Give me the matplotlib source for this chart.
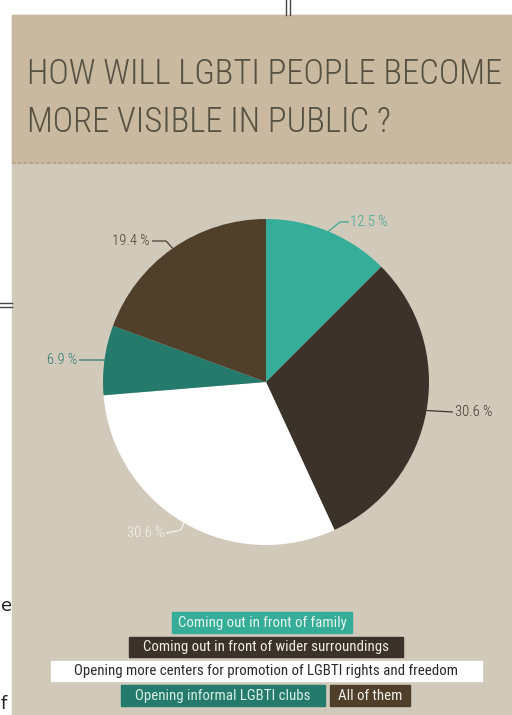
import matplotlib
matplotlib.use('Agg')
import matplotlib.pyplot as plt
from matplotlib import font_manager as fm
from matplotlib.patches import Rectangle
import numpy as np

# ---------------- data ----------------
categories = ["Coming out in front of family",
              "Coming out in front of wider surroundings",
              "Opening more centers for promotion of LGBTI rights and freedom",
              "Opening informal LGBTI clubs",
              "All of them"]
values = [12.5, 30.6, 30.6, 6.9, 19.4]
value_labels = ["12.5 %", "30.6 %", "30.6 %", "6.9 %", "19.4 %"]
title_lines = ["HOW WILL LGBTI PEOPLE BECOME", "MORE VISIBLE IN PUBLIC ?"]

# ---------------- style ----------------
colors = ['#35ad98', '#3b3229', '#ffffff', '#247a6b', '#4f3f2b']
legend_text_colors = ['#e6f4ef', '#f2eee8', '#2a2a2a', '#d9eee8', '#f2eee8']
label_colors = ['#3aa892', '#3e372e', '#f6f3ec', '#2c7d6e', '#4a4134']


def pick_font(prefs):
    files = [f.fname for f in fm.fontManager.ttflist]
    for p in prefs:
        for fn in files:
            if p.lower() in fn.lower().replace('\\', '/').split('/')[-1]:
                return fm.FontProperties(fname=fn)
    return fm.FontProperties(family='DejaVu Sans', stretch='condensed')


title_fp = pick_font(['OpenSans_Condensed-Light', 'OpenSansCondensed-Light', 'OpenSans-CondensedLight',
                      'RobotoCondensed-Light', 'NotoSans-CondensedLight', 'NotoSans-ExtraCondensedLight',
                      'LiberationSansNarrow-Regular', 'DejaVuSansCondensed.ttf'])
label_fp = title_fp
legend_fp = pick_font(['PTSansNarrow', 'NotoSans-Condensed.ttf', 'RobotoCondensed-Regular',
                       'OpenSans_Condensed-Medium', 'LiberationSansNarrow-Regular', 'DejaVuSansCondensed.ttf'])

W, H = 512, 715
fig = plt.figure(figsize=(W / 100, H / 100), dpi=100)
fig.patch.set_facecolor('white')

bg = fig.add_axes([0, 0, 1, 1])
bg.set_xlim(0, W)
bg.set_ylim(H, 0)
bg.axis('off')

# poster background
bg.add_patch(Rectangle((12, 15), W - 12, H - 15, color='#d1c9ba', zorder=0))
bg.add_patch(Rectangle((12, 15), W - 12, 148, color='#c8b9a0', zorder=0.5))
bg.plot([12, W], [163, 163], color='#b0a38b', lw=1.2, ls=(0, (2, 1.5)), zorder=0.6)

# page artifacts
bg.plot([285.5, 285.5], [0, 15], color='#444444', lw=1)
bg.plot([289.5, 289.5], [0, 15], color='#444444', lw=1)
bg.plot([0, 12], [302.5, 302.5], color='#444444', lw=1)
bg.plot([0, 12], [306.5, 306.5], color='#444444', lw=1)
bg.text(1, 606, 'e', fontsize=13, color='#222222', va='center', ha='left')
bg.text(1, 704, 'f', fontsize=13, color='#222222', va='center', ha='left')

# title
renderer = fig.canvas.get_renderer()
title_color = '#585040'
t1 = bg.text(27, 84, title_lines[0], fontproperties=title_fp, fontsize=30,
             color=title_color, ha='left', va='baseline', zorder=3)
w1 = t1.get_window_extent(renderer).width
fs = 30 * 475.0 / w1
t1.set_fontsize(fs)
t2 = bg.text(27, 132, title_lines[1], fontproperties=title_fp, fontsize=fs,
             color=title_color, ha='left', va='baseline', zorder=3)

# pie
cx, cy, r = 266, 382, 163
pie_ax = fig.add_axes([(cx - r) / W, 1 - (cy + r) / H, 2 * r / W, 2 * r / H])
wedges, _ = pie_ax.pie(values, colors=colors, startangle=90, counterclock=False,
                       radius=1, wedgeprops=dict(linewidth=0))
pie_ax.set_xlim(-1, 1)
pie_ax.set_ylim(-1, 1)
pie_ax.axis('off')

# value labels with leader lines (elbow + text anchor in page pixels)
label_layout = [
    dict(elbow=(340, 222), end=(349, 222), text=(350, 222), ha='left'),
    dict(elbow=None, end=(453, 412), text=(455, 412), ha='left'),
    dict(elbow=(181, 530), end=(166, 533), text=(164, 533), ha='right'),
    dict(elbow=(100, 360), end=(79, 360), text=(77, 360), ha='right'),
    dict(elbow=(166, 241), end=(152, 241), text=(150, 241), ha='right'),
]
to_px = pie_ax.transData + bg.transData.inverted()
for wdg, lab, col, lay in zip(wedges, value_labels, label_colors, label_layout):
    ang = np.deg2rad((wdg.theta1 + wdg.theta2) / 2)
    px, py = to_px.transform((np.cos(ang), np.sin(ang)))
    pts = [(px, py)]
    if lay['elbow'] is not None:
        pts.append(lay['elbow'])
    pts.append(lay['end'])
    xs, ys = zip(*pts)
    bg.plot(xs, ys, color=col, lw=0.9, zorder=4, solid_capstyle='butt')
    bg.text(lay['text'][0], lay['text'][1], lab, fontproperties=label_fp, fontsize=10.5,
            color=col, ha=lay['ha'], va='center', zorder=5)

# legend boxes
legend_layout = [
    (172, 612, 180, 21),
    (129, 637, 274, 20),
    (51, 661, 431, 20),
    (121, 685, 204, 21),
    (330, 685, 80, 21),
]
for cat, col, tcol, (x, y, w, h) in zip(categories, colors, legend_text_colors, legend_layout):
    bg.add_patch(Rectangle((x, y), w, h, color=col, zorder=2))
    bg.text(x + w / 2, y + h / 2 + 0.5, cat, fontproperties=legend_fp, fontsize=10.7,
            color=tcol, ha='center', va='center', zorder=3)

fig.savefig('out.png', dpi=100, facecolor='white')
